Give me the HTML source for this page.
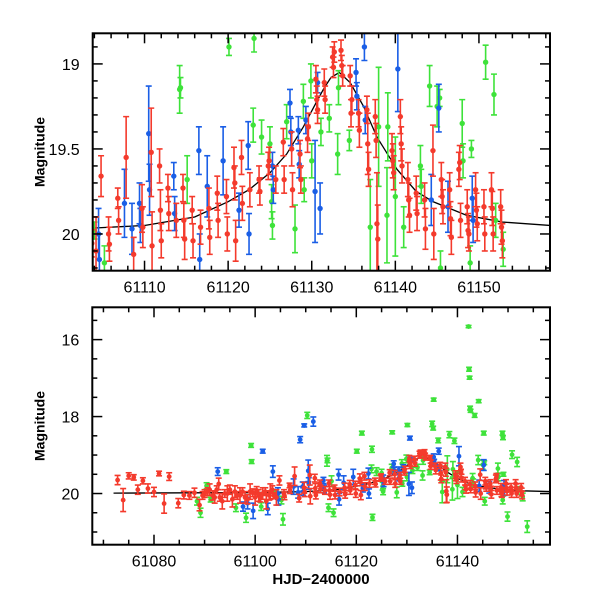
<!DOCTYPE html>
<html><head><meta charset="utf-8"><style>
html,body{margin:0;padding:0;background:#fff}
svg{display:block}
text{font-family:"Liberation Sans",sans-serif;fill:#000}
</style></head><body>
<svg id="chart" width="600" height="600" viewBox="0 0 600 600">
<defs>
<clipPath id="clipTop"><rect x="92.7" y="33.3" width="457.3" height="237.4"/></clipPath>
<clipPath id="clipBot"><rect x="92.3" y="307.3" width="457.7" height="237.4"/></clipPath>
</defs>
<g id="topPanel"></g>
<g id="botPanel"></g>
</svg>
<script>
// ---- data ----
const redT=[61072.8,61073.9,61075,61076,61076.8,61077.8,61078.8,61080,61081,61082,61083,61084.8,61085.9,61087,61088,61089,61090,61091,61092,61092.8,61093.5,61094.5,61095.5,61096,61097,61098,61099,61100,61100.7,61101.5,61102.2,61103,61104.2,
61089.6,61090.6,61091.6,61092.4,61093,61094,61095,61096.5,61097.5,61098.5,61099.5,61100.3,61101,61102,61102.8,61103.4,
61103.7,61104.8,61105.7,61105.8,61106.8,61106.9,61107.8,61108.7,61109.7,61109.8,61110.8,61110.9,61111.8,61111.9,61112,61112.8,61112.9,61113.8,61114.6,61114.7,61114.8,61115.7,61115.8,61116.7,61117.7,61117.8,61118.7,61118.8,61119.8,61119.9,61120.7,61120.8,61120.9,61121.6,61121.7,61122.6,61123.7,61123.8,61124.8,61124.9,61125.7,61126.6,61126.7,61127.6,61127.7,61128.6,61128.7,61129.5,61129.6,61130.5,61130.6,61130.7,61131.5,61131.6,61132.5,61132.6,61132.7,61133.5,61133.6,61133.7,61134.6,61134.7,61134.8,61135.6,61135.7,61136.6,61136.7,61136.8,61137.6,61137.7,61137.8,61137.9,61139.6,61139.7,61139.8,61140.6,61140.7,61140.8,61141.5,61141.6,61141.7,61142.5,61142.6,61143.5,61143.6,61144.5,61144.6,61145.5,61145.6,61145.7,61146.5,61146.6,61146.7,61147.6,61147.7,61147.8,61148.6,61148.7,61148.8,61149.6,61149.7,61149.8,61150.6,61150.7,61151.5,61151.6,61151.7,61152.6,61152.7,61152.8];
const redM=[19.65,20.17,19.54,19.58,19.9,19.67,19.87,19.96,19.48,20.26,19.56,20.25,20.04,20.05,19.98,20.3,20.0,19.9,20.1,19.75,20.2,20.0,20.15,19.95,20.05,20.1,19.95,20.1,20.05,20.0,20.2,19.95,20.1,
20.05,19.95,20.05,19.9,20.1,20.0,19.9,20.05,19.95,20.15,19.98,19.92,20.1,19.95,20.05,19.9,
20.055,19.66,20.0,20.06,19.79,19.92,19.55,20.12,19.85,19.96,19.52,20.07,19.6,19.86,20.04,19.73,19.88,19.92,19.73,19.92,20.03,19.86,20.04,19.96,19.85,20.02,19.76,19.92,19.78,20.0,19.61,19.7,20.04,19.55,19.82,19.74,19.68,19.75,19.6,19.57,19.68,19.46,19.68,19.5,19.74,19.53,19.68,19.44,19.37,19.09,19.21,19.27,19.11,19.21,18.96,19.02,18.93,18.92,19.01,19.07,19.07,19.29,19.21,19.29,19.39,19.27,19.47,19.62,19.31,19.45,19.94,20.03,19.51,19.57,19.64,19.31,19.47,19.6,19.68,19.8,19.89,19.76,19.88,19.8,19.97,19.51,20.0,19.68,19.78,19.84,19.74,19.91,20.02,19.62,19.58,19.92,19.84,19.98,20.0,19.74,19.86,19.94,19.84,20.0,19.74,19.85,20.0,19.84,19.96,20.04];
const redE=[.12,.3,.08,.07,.12,.08,.12,.12,.06,.25,.1,.12,.1,.1,.12,.15,.1,.15,.15,.15,.2,.2,.2,.15,.2,.15,.2,.2,.15,.15,.2,.2,.2,
.1,.1,.12,.1,.1,.1,.12,.1,.1,.12,.1,.1,.12,.1,.12,.1,
.08,.12,.1,.1,.06,.08,.24,.1,.14,.12,.26,.2,.1,.12,.1,.08,.1,.1,.08,.1,.12,.08,.1,.1,.12,.1,.1,.1,.1,.1,.12,.1,.12,.1,.1,.1,.08,.08,.08,.08,.08,.08,.08,.1,.1,.08,.08,.08,.08,.08,.08,.08,.08,.08,.06,.06,.06,.06,.06,.06,.06,.08,.08,.08,.1,.08,.18,.1,.1,.1,.3,.2,.1,.1,.1,.1,.1,.1,.1,.1,.1,.1,.1,.1,.12,.15,.15,.1,.1,.1,.1,.1,.1,.1,.1,.1,.1,.1,.1,.1,.1,.1,.1,.1,.1,.1,.1,.1,.1,.1,.1];
const blueT=[61092.6,61097.6,61098.5,61099.6,61101.5,61102.5,61103.5,61104.5,61104.6,61107.6,61108.5,61108.9,61109.4,61109.5,61109.7,61110.5,61110.6,61111.5,61113.5,61113.6,61116.5,61116.6,61117.5,61119.4,61121.3,61122.4,61122.5,61125.3,61125.4,61127.4,61127.5,61128.4,61128.5,61129.3,61130.4,61130.6,61130.7,61131,61135.3,61135.4,61136.3,61136.4,61140.3,61144.3,61145.2,61146.3,61149.2,61149.3];
const blueM=[19.43,20.34,20.25,20.45,18.9,20.4,19.43,20.0,20.15,19.82,19.97,18.6,19.82,19.95,18.23,19.41,19.74,18.13,19.66,19.88,19.51,20.15,19.72,19.57,19.86,19.48,20.0,19.6,19.74,19.23,19.4,19.39,19.59,19.33,19.75,18.56,19.11,19.85,19.05,19.19,18.9,19.33,19.03,19.8,19.26,19.84,19.79,19.92];
const blueE=[.1,.12,.15,.2,.05,.15,.15,.15,.15,.2,.15,.08,.12,.1,.04,.28,.15,.12,.08,.1,.14,.15,.18,.2,.1,.14,.12,.08,.08,.08,.08,.08,.08,.08,.3,.05,.06,.15,.08,.08,.08,.08,.25,.15,.14,.15,.13,.13];
const greenT=[61088.5,61089.2,61090.4,61091.2,61094.3,61096.2,61098.2,61099.2,61099.3,61101.2,61104,61105.2,61105.5,61110.3,61114.2,61114.3,61114.5,61115.1,61115.5,61120.1,61121.1,61123.1,61123.2,61123,61124,61125,61125.2,61125.3,61127,61127.1,61128,61129,61129.1,61129.9,61130,61130.1,61131.1,61132.1,61133.1,61133.2,61134.5,61135,61135.2,61135.3,61136.2,61137,61138,61138.4,61139,61139.1,61139.4,61140,61141,61142.2,61142.3,61142.4,61142.5,61142.6,61143,61143.1,61143.4,61144.1,61144.2,61145,61145.2,61145.3,61145.4,61148,61148.1,61148.9,61149,61149.1,61148.95,61149.9,61150.8,61151.8,61152,61152.9,61153.8];
const greenM=[20.2,20.5,19.8,20.16,19.43,20.37,20.63,18.75,19.17,20.34,19.98,20.17,20.67,17.97,19.15,19.14,20.37,19.68,20.5,18.9,18.43,18.85,20.62,19.36,19.43,19.47,19.81,19.95,19.34,18.41,19.97,19.22,19.74,19.1,19.57,18.22,19.4,19.32,19.53,19.14,19.45,18.19,18.3,17.56,18.62,19.96,19.37,18.47,19.89,19.37,18.63,19.78,19.96,15.66,16.77,16.99,17.78,17.85,19.6,19.72,17.97,19.13,17.6,19.25,18.43,19.2,20.2,19.35,19.57,18.43,18.55,19.5,20.17,20.6,18.99,19.18,19.92,20.09,20.86];
const greenE=[.1,.12,.08,.06,.05,.1,.12,.05,.05,.1,.05,.1,.15,.08,.14,.06,.1,.14,.1,.05,.05,.08,.08,.1,.1,.1,.1,.08,.1,.04,.14,.1,.07,.1,.1,.04,.08,.08,.12,.1,.06,.07,.05,.04,.06,.28,.35,.08,.28,.2,.07,.35,.12,.03,.05,.04,.05,.04,.12,.1,.05,.12,.04,.12,.05,.05,.1,.14,.1,.05,.05,.05,.1,.12,.1,.12,.1,.1,.15];
const curveT=[61072,61100,61104,61110,61116,61120,61122.5,61125,61127,61129,61130.5,61131.5,61132.3,61133.3,61134.6,61136.2,61137.8,61140.2,61142.5,61144.5,61148.5,61152.8,61158.5];
const curveM=[19.99,19.975,19.965,19.95,19.9,19.81,19.74,19.64,19.53,19.37,19.23,19.14,19.08,19.05,19.11,19.25,19.43,19.62,19.75,19.81,19.89,19.93,19.95];
const topXTicks=[61110,61120,61130,61140,61150];
const topYTicks=["19","19.5","20"];
const botXTicks=[61080,61100,61120,61140];
const botYTicks=["16","18","20"];

const NS="http://www.w3.org/2000/svg";
function mk(tag,attrs,parent){const e=document.createElementNS(NS,tag);for(const k in attrs)e.setAttribute(k,attrs[k]);parent.appendChild(e);return e;}
const COL={red:"#f43a2c",green:"#3ee23a",blue:"#1a5ee6"};

function panel(g,cfg){
  const {x0,x1,y0,y1,t0,t1,m0,m1,clip,rad}=cfg;
  const X=t=>x0+(t-t0)/(t1-t0)*(x1-x0);
  const Y=m=>y0+(m-m0)/(m1-m0)*(y1-y0);
  const data=mk('g',{'clip-path':'url(#'+clip+')'},g);
  
  
  let d='';
  for(let i=0;i<curveT.length;i++)d+=(i?'L':'M')+X(curveT[i]).toFixed(2)+','+Y(curveM[i]).toFixed(2);
  const cv=mk('path',{d:d,fill:'none',stroke:'#000','stroke-width':1.3},data);
  
  
  const series=[['green',greenT,greenM,greenE],['blue',blueT,blueM,blueE],['red',redT,redM,redE]];
  for(const [name,T,M,E] of series){
    const sg=mk('g',{},data);
    
    
    for(let i=0;i<T.length;i++){
      const x=X(T[i]),y=Y(M[i]),ya=Y(M[i]-E[i]),yb=Y(M[i]+E[i]);
      const pg=mk('g',{stroke:COL[name],'stroke-width':1.6,fill:COL[name]},sg);
      
      
      mk('line',{x1:x,y1:ya,x2:x,y2:yb},pg);
      mk('line',{x1:x-3,y1:ya,x2:x+3,y2:ya},pg);
      mk('line',{x1:x-3,y1:yb,x2:x+3,y2:yb},pg);
      mk('circle',{cx:x,cy:y,r:rad,stroke:'none'},pg);
    }
  }
  const fr=mk('rect',{x:x0,y:y0,width:x1-x0,height:y1-y0,fill:'none',stroke:'#000','stroke-width':2},g);
  
  
  const ax=mk('g',{stroke:'#000','stroke-width':1.5},g);
  
  
  for(let t=Math.ceil(t0/cfg.xmin)*cfg.xmin;t<=t1;t+=cfg.xmin){
    const major=Math.abs(t/cfg.xmaj-Math.round(t/cfg.xmaj))<1e-6;const L=major?10:5,x=X(t);
    mk('line',{x1:x,y1:y1,x2:x,y2:y1-L},ax);mk('line',{x1:x,y1:y0,x2:x,y2:y0+L},ax);
  }
  for(let k=Math.ceil(m0/cfg.ymin-1e-6);k*cfg.ymin<=m1;k++){
    const m=k*cfg.ymin;const major=Math.abs(m/cfg.ymaj-Math.round(m/cfg.ymaj))<1e-6;const L=major?10:5,y=Y(m);
    mk('line',{x1:x0,y1:y,x2:x0+L,y2:y},ax);mk('line',{x1:x1,y1:y,x2:x1-L,y2:y},ax);
  }
  for(const t of cfg.xt){
    const tx=mk('text',{x:X(t),y:y1+22,'text-anchor':'middle','font-size':16},g);tx.textContent=t;
    
    
  }
  for(const s of cfg.yt){
    const ty=mk('text',{x:x0-13,y:Y(parseFloat(s))+6,'text-anchor':'end','font-size':16},g);ty.textContent=s;
    
    
  }
  const yl=mk('text',{transform:'translate('+(x0-48)+','+((y0+y1)/2)+') rotate(-90)','text-anchor':'middle','font-size':14,'font-weight':'bold'},g);
  yl.textContent='Magnitude';
  
  
}
panel(document.getElementById('topPanel'),{x0:92.7,x1:550,y0:33.3,y1:270.7,t0:61103.8,t1:61158.5,m0:18.82,m1:20.216,clip:'clipTop',rad:2.7,xmin:2,xmaj:10,ymin:0.1,ymaj:0.5,xt:topXTicks,yt:topYTicks});
panel(document.getElementById('botPanel'),{x0:92.3,x1:550,y0:307.3,y1:544.7,t0:61067.8,t1:61158.3,m0:15.16,m1:21.33,clip:'clipBot',rad:2.4,xmin:5,xmaj:20,ymin:0.5,ymaj:2,xt:botXTicks,yt:botYTicks});
const xt=mk('text',{x:321,y:584,'text-anchor':'middle','font-size':15,'font-weight':'bold'},document.getElementById('botPanel'));
xt.textContent='HJD\u22122400000';


</script>
</body></html>
